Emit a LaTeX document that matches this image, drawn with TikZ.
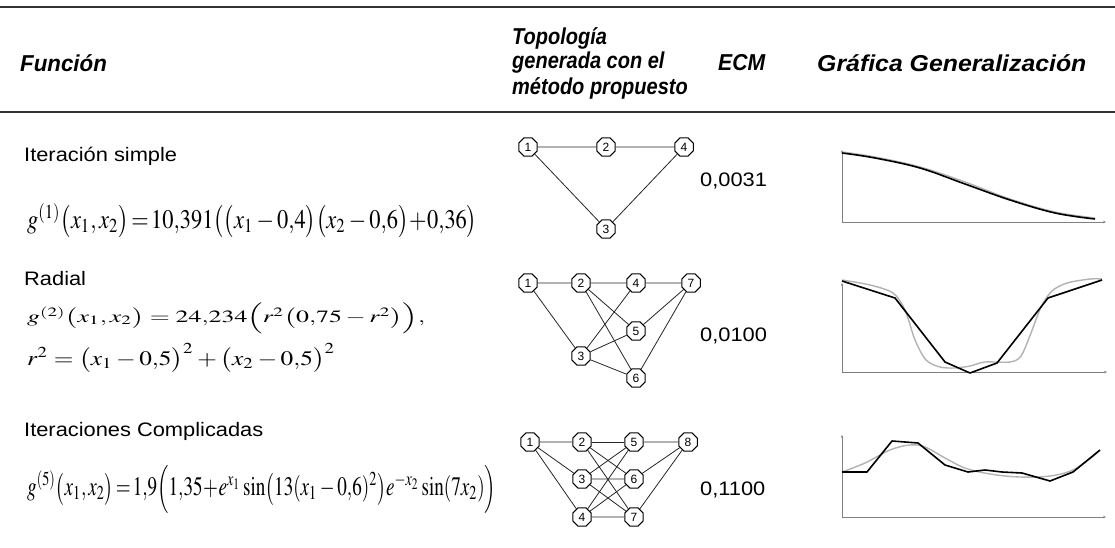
\documentclass[tikz,border=0pt]{standalone}
\usepackage{mathptmx}
\usepackage{fontspec}
\setmainfont{Liberation Sans}
\usepackage{graphicx}
\usetikzlibrary{shapes.geometric,arrows.meta}
\newcommand{\sx}[1]{\scalebox{1.12}[1]{#1}}
\newcommand{\hx}[2]{\scalebox{#1}[1]{#2}}
\tikzset{
 hdr/.style={anchor=west, inner sep=0pt, font=\fontsize{23}{24}\selectfont\bfseries\itshape},
 lbl/.style={anchor=base west, inner sep=0pt, font=\fontsize{19.5}{22}\selectfont},
 ecm/.style={anchor=west, inner sep=0pt, font=\fontsize{19.5}{22}\selectfont},
 frm/.style={anchor=west, inner sep=0pt},
 neu/.style={draw, regular polygon, regular polygon sides=8, minimum size=20pt, inner sep=0pt, fill=white, line width=1pt, font=\fontsize{12}{12}\selectfont},
 edge/.style={line width=0.8pt, draw=black!85},
 axis/.style={line width=0.8pt, draw=black!50, {Stealth[length=3pt,width=2.5pt]}-{Stealth[length=3pt,width=2.5pt]}},
 fitl/.style={line width=1.6pt, black, line join=round},
 tgt/.style={line width=1.4pt, black!30, line join=round},
 rulel/.style={line width=1.6pt, black!80}
}
\begin{document}
\begin{tikzpicture}[x=1pt,y=-1pt]
\fill[white] (0,0) rectangle (1115,548);
\useasboundingbox (0,0) rectangle (1115,548);
% rules
\draw[rulel] (0,7) -- (1115,7);
\draw[rulel] (0,112) -- (1115,112);
% header
\node[hdr] (hf) at (20,63) {\hx{0.97}{Función}};
\node[hdr] (ht1) at (512,38) {\hx{0.87}{Topología}};
\node[hdr] (ht2) at (512,63) {\hx{0.87}{generada con el}};
\node[hdr] (ht3) at (512,88) {\hx{0.87}{método propuesto}};
\node[hdr] (he) at (718,63) {\hx{0.92}{ECM}};
\node[hdr] (hg) at (817,63) {\hx{1.08}{Gráfica Generalización}};
% row labels
\node[lbl] (l1) at (24,161) {\sx{Iteración simple}};
\node[lbl] (l2) at (24,285) {\sx{Radial}};
\node[lbl] (l3) at (24,436) {\sx{Iteraciones Complicadas}};
% formulas
\node[frm] (f1) at (27,221) {\resizebox*{450pt}{34pt}{$g^{(1)}\bigl(x_1,x_2\bigr)\!=\!10{,}391\bigl(\bigl(x_1-0{,}4\bigr)\bigl(x_2-0{,}6\bigr)\!+\!0{,}36\bigr)$}};
\node[frm] (f2a) at (27,318) {\resizebox*{398pt}{31pt}{$g^{(2)}\bigl(x_1,x_2\bigr)= 24{,}234\Bigl(r^2\bigl(0{,}75-r^2\bigr)\Bigr),$}};
\node[frm] (f2b) at (27,358) {\resizebox*{308pt}{29pt}{$r^2=\bigl(x_1-0{,}5\bigr)^2+\bigl(x_2-0{,}5\bigr)^2$}};
\node[frm] (f3) at (27,489) {\resizebox*{469pt}{48pt}{$g^{(5)}\bigl(x_1,x_2\bigr)\!=\!1{,}9\Bigl(1{,}35\!+\!e^{x_1}\sin\bigl(13(x_1-0{,}6)^2\bigr)e^{-x_2}\sin(7x_2)\Bigr)$}};
% ECM
\node[ecm] (e1) at (700,181) {\sx{0,0031}};
\node[ecm] (e2) at (700,336) {\sx{0,0100}};
\node[ecm] (e3) at (700,490) {\sx{0,1100}};
% network 1
\node[neu] (a1) at (528,147) {1};
\node[neu] (a2) at (606,147) {2};
\node[neu] (a4) at (684,147) {4};
\node[neu] (a3) at (606,229) {3};
\draw[edge] (a1) -- (a2); \draw[edge] (a2) -- (a4);
\draw[edge] (a1) -- (a3); \draw[edge] (a3) -- (a4);
% network 2
\node[neu] (b1) at (528,283) {1};
\node[neu] (b2) at (581,283) {2};
\node[neu] (b4) at (636,283) {4};
\node[neu] (b7) at (691,283) {7};
\node[neu] (b5) at (636,331) {5};
\node[neu] (b3) at (581,356) {3};
\node[neu] (b6) at (636,378) {6};
\foreach \p/\q in {b1/b2,b2/b4,b4/b7,b1/b3,b2/b5,b2/b6,b3/b4,b3/b5,b3/b6,b5/b7,b6/b7}
  \draw[edge] (\p) -- (\q);
% network 3
\node[neu] (c1) at (530,442) {1};
\node[neu] (c2) at (582,442) {2};
\node[neu] (c5) at (634,442) {5};
\node[neu] (c8) at (688,442) {8};
\node[neu] (c3) at (582,479) {3};
\node[neu] (c6) at (634,479) {6};
\node[neu] (c4) at (582,517) {4};
\node[neu] (c7) at (634,517) {7};
\foreach \p/\q in {c1/c2,c1/c3,c1/c4,c2/c5,c2/c6,c2/c7,c3/c5,c3/c6,c3/c7,c4/c5,c4/c6,c4/c7,c5/c8,c6/c8,c7/c8}
  \draw[edge] (\p) -- (\q);
% graph 1
\draw[axis] (842,150) -- (842,222) -- (1106,222);
\draw[tgt] plot[smooth, tension=0.6] coordinates {(842,152) (875,157) (920,167) (965,182) (1010,199) (1055,212) (1095,218)};
\draw[fitl] plot[smooth, tension=0.6] coordinates {(842,153) (875,158) (920,168) (965,184) (1010,200) (1055,213) (1095,219)};
% graph 2
\draw[axis] (842,283) -- (842,372) -- (1107,372);
\draw[tgt] plot[smooth, tension=0.5] coordinates {(842,280) (870,285) (893,293) (905,310) (915,340) (926,360) (940,367) (955,368) (970,366) (985,362) (1010,362) (1021,356) (1031,333) (1041,307) (1052,291) (1067,283) (1090,279) (1102,279)};
\draw[fitl] (842,281) -- (895,298) -- (945,362) -- (970,373) -- (997,363) -- (1048,298) -- (1102,280);
% graph 3
\draw[axis] (842,435) -- (842,517) -- (1106,517);
\draw[tgt] plot[smooth, tension=0.6] coordinates {(842,472) (865,463) (890,450) (910,445) (925,447) (945,458) (965,468) (990,474) (1020,477) (1050,476) (1075,469) (1098,452)};
\draw[fitl] (842,472) -- (867,472) -- (892,441) -- (918,443) -- (945,465) -- (968,472) -- (985,470) -- (1002,472) -- (1022,473) -- (1050,481) -- (1073,472) -- (1100,450);
\end{tikzpicture}
\end{document}
